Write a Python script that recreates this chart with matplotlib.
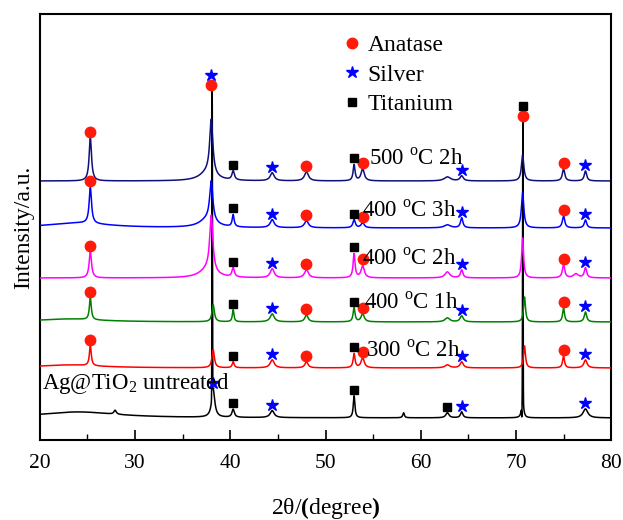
import matplotlib
matplotlib.use("Agg")
import matplotlib.pyplot as plt
import numpy as np

plt.rcParams['font.family'] = ['Liberation Serif', 'DejaVu Serif']
plt.rcParams['mathtext.fontset'] = 'custom'
plt.rcParams['mathtext.rm'] = 'Liberation Serif'
plt.rcParams['mathtext.bf'] = 'Liberation Serif:bold'

# samples, top to bottom
labels = ['500 $^{\\mathrm{o}}$C 2h', '400 $^{\\mathrm{o}}$C 3h', '400 $^{\\mathrm{o}}$C 2h',
          '400 $^{\\mathrm{o}}$C 1h', '300 $^{\\mathrm{o}}$C 2h', 'Ag@TiO$_2$ untreated']
colors = ['#10107a', '#0000ff', '#ff00ff', '#008000', '#ff0000', '#000000']
offsets = [259, 212, 162, 118, 72, 22]

# peak positions (2theta), heights and half widths
pos_500 = [25.3, 38.0, 37.6, 40.3, 44.4, 48.0, 53.0, 53.9, 62.8, 64.3, 70.7, 75.0, 77.3]
hgt_500 = [43, 55, 8, 9, 8, 9, 16, 12, 4, 5, 26, 12, 10]
wid_500 = [0.15, 0.2, 1.0, 0.15, 0.25, 0.25, 0.12, 0.2, 0.4, 0.2, 0.15, 0.15, 0.15]

pos_3h = [25.3, 38.0, 37.6, 40.3, 44.4, 48.0, 53.0, 53.9, 62.8, 64.3, 70.7, 75.0, 77.3, 24.0]
hgt_3h = [36, 40, 8, 12, 8, 7, 8, 5, 3, 10, 35, 12, 8, 5]
wid_3h = [0.15, 0.2, 1.0, 0.12, 0.25, 0.25, 0.15, 0.2, 0.4, 0.15, 0.15, 0.15, 0.15, 4.0]

pos_2h = [25.3, 38.0, 37.6, 40.3, 44.4, 48.0, 53.0, 53.9, 62.8, 64.3, 70.7, 75.0, 76.3, 77.3]
hgt_2h = [26, 56, 8, 9, 9, 8, 24, 12, 6, 8, 40, 13, 4, 10]
wid_2h = [0.15, 0.2, 1.0, 0.15, 0.25, 0.25, 0.12, 0.2, 0.3, 0.15, 0.12, 0.15, 0.3, 0.15]

pos_1h = [25.3, 38.2, 40.3, 44.4, 48.0, 53.0, 53.9, 62.8, 64.3, 70.9, 75.0, 77.3, 23.0]
hgt_1h = [22, 17, 12, 8, 7, 14, 8, 4, 6, 25, 14, 10, 3]
wid_1h = [0.12, 0.15, 0.1, 0.25, 0.2, 0.12, 0.2, 0.3, 0.2, 0.12, 0.12, 0.15, 4.0]

pos_300 = [25.3, 38.2, 40.3, 44.4, 48.0, 53.0, 53.9, 62.8, 64.3, 70.9, 75.0, 77.3, 23.0]
hgt_300 = [20, 18, 6, 8, 6, 14, 10, 3, 6, 22, 12, 8, 3]
wid_300 = [0.12, 0.15, 0.12, 0.25, 0.2, 0.12, 0.2, 0.3, 0.2, 0.12, 0.12, 0.2, 4.0]

pos_un = [24.0, 27.9, 38.2, 40.3, 44.4, 53.0, 58.2, 62.8, 64.3, 70.7, 77.3]
hgt_un = [6, 4, 28, 8, 7, 22, 5, 5, 6, 25, 9]
wid_un = [5.0, 0.15, 0.2, 0.15, 0.25, 0.1, 0.1, 0.2, 0.15, 0.1, 0.3]

# very sharp lines of the untreated sample
spike_pos = [38.1, 70.72, 70.62]
spike_hgt = [304, 272, -14]

# phase markers per sample
anatase = [[25.3, 38.0, 48.0, 53.9, 70.7, 75.0],
           [25.3, 48.0, 53.9, 75.0],
           [25.3, 48.0, 53.9, 75.0],
           [25.3, 48.0, 53.9, 75.0],
           [25.3, 48.0, 53.9, 75.0],
           []]
silver = [[38.0, 44.4, 64.3, 77.3],
          [44.4, 64.3, 77.3],
          [44.4, 64.3, 77.3],
          [44.4, 64.3, 77.3],
          [44.4, 64.3, 77.3],
          [38.2, 44.4, 64.3, 77.3]]
titanium = [[40.3, 53.0, 70.7],
            [40.3, 53.0],
            [40.3, 53.0],
            [40.3, 53.0],
            [40.3, 53.0],
            [40.3, 53.0, 62.8]]

x = np.arange(20, 80.0001, 0.01)


def lorentz(p, h, w):
    y = np.zeros_like(x)
    for pi, hi, wi in zip(p, h, w):
        y += hi / (1 + ((x - pi) / wi) ** 2)
    return y


peak_sets = [(pos_500, hgt_500, wid_500), (pos_3h, hgt_3h, wid_3h), (pos_2h, hgt_2h, wid_2h),
             (pos_1h, hgt_1h, wid_1h), (pos_300, hgt_300, wid_300), (pos_un, hgt_un, wid_un)]
curves = [off + lorentz(*ps) for off, ps in zip(offsets, peak_sets)]
spikes = np.zeros_like(x)
for p, h in zip(spike_pos, spike_hgt):
    spikes += h * np.exp(-0.5 * ((x - p) / 0.025) ** 2)

fig = plt.figure(figsize=(6.23, 5.2), dpi=100)
ax = fig.add_axes([0.064, 0.154, 0.917, 0.819])

ax.plot(x, curves[5] + spikes, color=colors[5], lw=1.1, zorder=1)
for i in range(5):
    ax.plot(x, curves[i], color=colors[i], lw=1.1, zorder=2 + i)

allmax = np.max(np.vstack(curves[:5] + [curves[5] + spikes]), axis=0)
styles = [('o', '#ff1a0a', 7.5), ('*', '#0000ff', 9), ('s', '#000000', 6)]
for i in range(6):
    ref = allmax if i == 0 else curves[i]
    used = {}
    for phase, (m, c, ms) in zip([anatase[i], silver[i], titanium[i]], styles):
        for p in phase:
            win = np.abs(x - p) < 0.2
            key = round(p, 1)
            y = ref[win].max() + 6 + 10 * used.get(key, 0)
            used[key] = used.get(key, 0) + 1
            ax.plot(p, y, marker=m, color=c, ms=ms, mec=c, ls='none', zorder=10)

# sample labels
text_x = [54.6, 53.8, 53.8, 54.0, 54.2, 20.2]
text_dy = [22, 17, 19, 19, 17, 34]
for i in range(6):
    ax.text(text_x[i], offsets[i] + text_dy[i], labels[i], fontsize=16.5, va='center', ha='left', zorder=11)

for m, c, ms, name in [('o', '#ff1a0a', 7.5, 'Anatase'), ('*', '#0000ff', 9, 'Silver'),
                       ('s', '#000000', 6, 'Titanium')]:
    ax.plot([], [], marker=m, color=c, ms=ms, ls='none', label=name)
ax.legend(loc='upper left', bbox_to_anchor=(0.497, 0.985), frameon=False, fontsize=17,
          handletextpad=0.05, labelspacing=0.34, borderaxespad=0.2, handlelength=1.2)

ax.set_xlim(20, 80)
ax.set_ylim(0, 426)
ax.set_xticks(range(20, 81, 10))
ax.set_xticks(range(25, 80, 10), minor=True)
ax.set_yticks([])
ax.tick_params(axis='x', which='major', direction='in', length=7, width=1.2, labelsize=15.5, pad=10)
ax.tick_params(axis='x', which='minor', direction='in', length=4, width=1.0)
for s in ax.spines.values():
    s.set_linewidth(1.5)

ax.set_xlabel('2θ/$\\mathbf{(}$degree$\\mathbf{)}$', fontsize=17, labelpad=16)
ax.set_ylabel('Intensity/a.u.', fontsize=17, labelpad=4)

fig.savefig('out.png', dpi=100)
